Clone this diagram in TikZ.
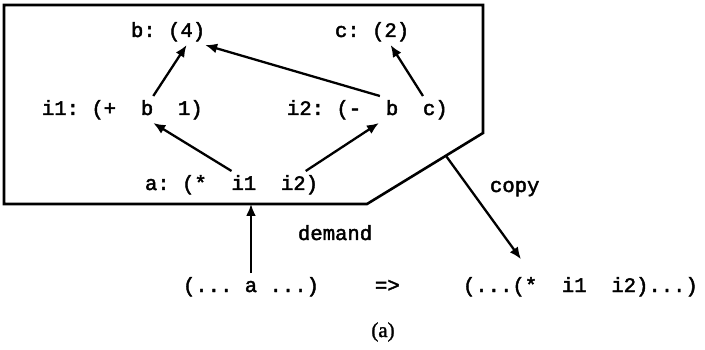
\documentclass[tikz,border=0pt]{standalone}
\usepackage{fontspec}
\setmainfont{Liberation Serif}
\newfontfamily\typew[FakeBold=2.2]{Liberation Mono}
\newfontfamily\capfont[FakeBold=1.5]{Liberation Serif}
\usetikzlibrary{arrows.meta,calc}
\newcommand\blank{\phantom{x}}
\begin{document}
\begin{tikzpicture}[x=1pt,y=-1pt,
  tt/.style={font=\typew\fontsize{20.6}{24}\selectfont, inner sep=0pt, outer xsep=0pt, outer ysep=4pt, text height=15pt, text depth=4pt, anchor=base west},
  arr/.style={line width=2.3pt, -{Latex[length=12pt,width=10pt]}},
  frame/.style={line width=2.6pt, line join=miter}]
\useasboundingbox (0,0) rectangle (705,350);
% frame
\coordinate (p1) at (4,5);
\coordinate (p2) at (483,5);
\coordinate (p3) at (483,133);
\coordinate (p4) at (367,204);
\coordinate (p5) at (4,204);
\draw[frame] (p1) -- (p2) -- (p3) -- (p4) -- (p5) -- cycle;
% row 1
\node[tt] (bpre) at (131,37) {b:\blank(};
\node[tt] (bfour) at (bpre.base east) {4};
\node[tt] (bclose) at (bfour.base east) {)};
\node[tt] (cpre) at (335,37) {c:\blank(};
\node[tt] (ctwo) at (cpre.base east) {2};
\node[tt] (cclose) at (ctwo.base east) {)};
% row 2
\node[tt] (i1pre) at (42,115) {i1:\blank(+\blank\blank};
\node[tt] (i1b) at (i1pre.base east) {b};
\node[tt] (i1post) at (i1b.base east) {\blank\blank1)};
\node[tt] (i2pre) at (287,115) {i2:\blank(-\blank\blank};
\node[tt] (i2b) at (i2pre.base east) {b};
\node[tt] (i2mid) at (i2b.base east) {\blank\blank};
\node[tt] (i2c) at (i2mid.base east) {c};
\node[tt] (i2close) at (i2c.base east) {)};
% row 3
\node[tt] (apre) at (145,190) {a:\blank(*\blank\blank};
\node[tt] (ai1) at (apre.base east) {i1};
\node[tt] (amid) at (ai1.base east) {\blank\blank};
\node[tt] (ai2) at (amid.base east) {i2};
\node[tt] (aclose) at (ai2.base east) {)};
% bottom row
\node[tt] (dpre) at (183,292) {(...\blank};
\node[tt] (da) at (dpre.base east) {a};
\node[tt] (dpost) at (da.base east) {\blank...)};
\node[tt] (impl) at (375,292) {=>};
\node[tt] (rpre) at (463,292) {(...(};
\node[tt] (rstar) at (rpre.base east) {*};
\node[tt] (rpost) at (rstar.base east) {\blank\blank i1\blank\blank i2)...)};
% labels
\node[tt] (demand) at (298,240) {demand};
\node[tt] (copy) at (490,192) {copy};
\node[font=\capfont\fontsize{21}{24}\selectfont, inner sep=0pt] (cap) at (383,332) {(a)};
% arrows
\draw[arr] (i1b.north east) -- (bfour.south);
\draw[arr] ([xshift=-6pt]i2b.north west) -- (bclose.south east);
\draw[arr] (i2c.north west) -- (ctwo.south);
\draw[arr] (ai1.north west) -- (i1b.south east);
\draw[arr] (ai2.north east) -- ([xshift=-7pt]i2b.south west);
\draw[arr] (da.north) -- (da.north |- p5);
\coordinate (cstart) at ($(p3)!0.32!(p4)$);
\draw[arr, shorten >=17pt] (cstart) -- (rstar.north);
\end{tikzpicture}
\end{document}
